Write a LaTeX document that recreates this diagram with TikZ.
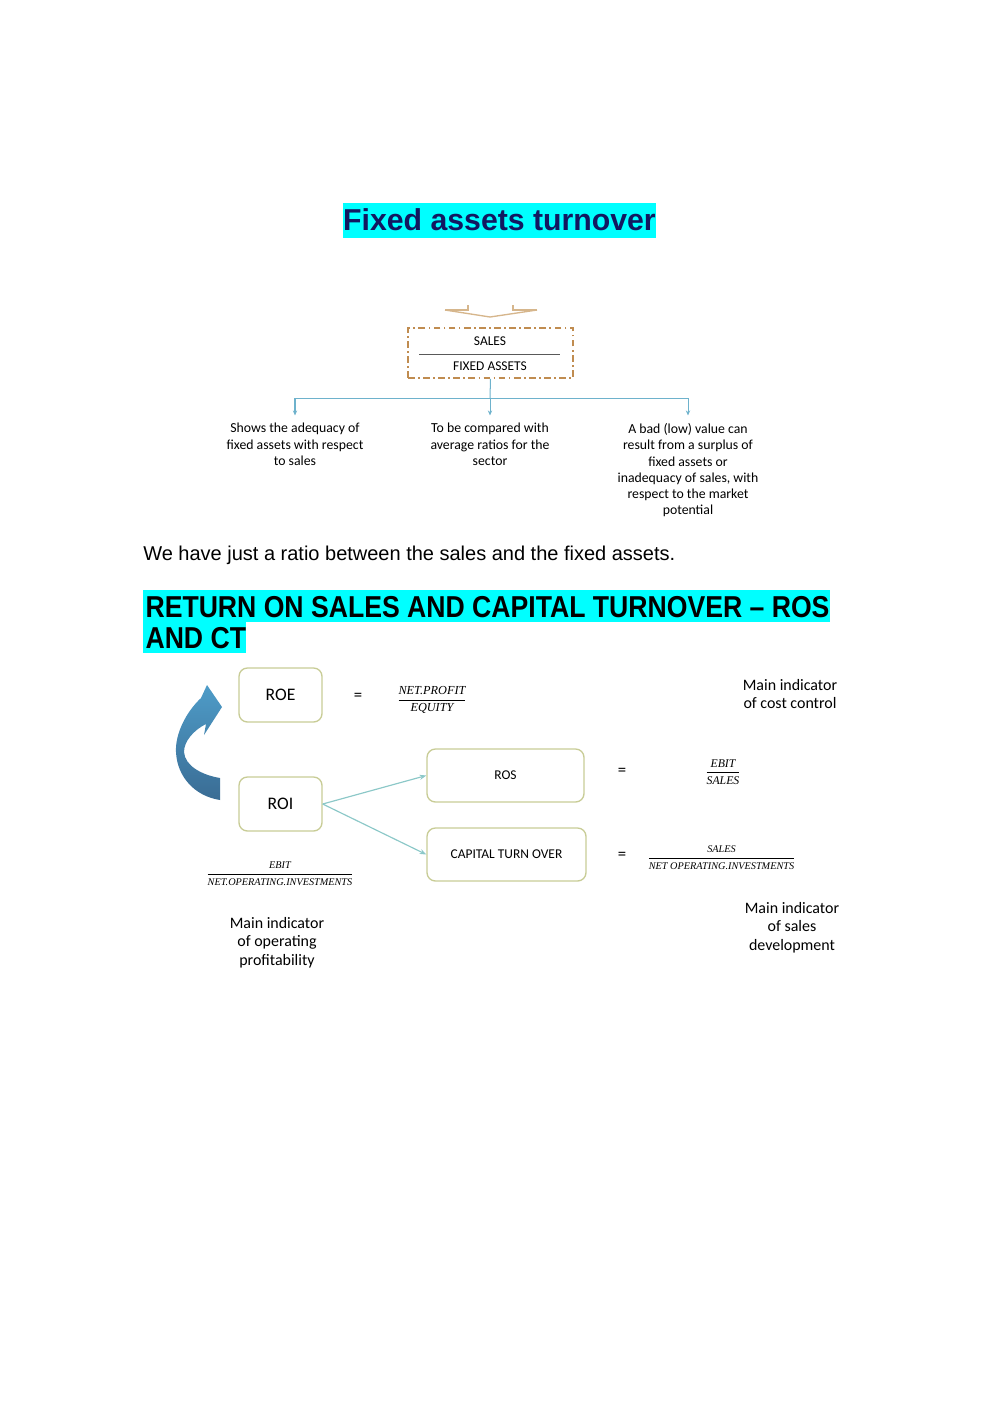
\documentclass[tikz,border=0pt]{standalone}
\usepackage{fontspec}
\setmainfont{Liberation Sans}
\newfontfamily\calf{Carlito}
\newfontfamily\tmsf{Liberation Serif}
\usetikzlibrary{arrows.meta}
\definecolor{hl}{RGB}{0,255,255}
\definecolor{navy}{RGB}{18,24,96}
\definecolor{olivebd}{RGB}{200,204,150}
\definecolor{dashbrown}{RGB}{192,140,80}
\definecolor{chevcol}{RGB}{214,182,140}
\definecolor{conn}{RGB}{110,178,204}
\definecolor{tealarr}{RGB}{140,200,200}
\definecolor{arrtop}{RGB}{78,156,200}
\definecolor{arrbot}{RGB}{58,108,148}
\def\pu{0.5953pt}
\newcommand{\myfrac}[2]{$\displaystyle\frac{\mbox{#1}}{\mbox{#2}}$}
\begin{document}
\begin{tikzpicture}[x=0.5953pt,y=-0.5953pt,
  titleA/.style={fill=hl,text=navy,font=\fontsize{18}{20}\selectfont\bfseries,inner xsep=0.3pt,inner ysep=0pt,text height=16pt,text depth=4.8pt,anchor=base},
  titleB/.style={fill=hl,text=black,font=\fontsize{18}{20}\selectfont\bfseries,inner xsep=0pt,inner ysep=0pt,text height=16pt,text depth=3pt,anchor=base west},
  bodytext/.style={font=\fontsize{11.9}{14}\selectfont,inner sep=0pt,anchor=base west},
  smalltext/.style={font=\calf\fontsize{8.2}{9.7}\selectfont,align=center,inner sep=0pt,anchor=north},
  indtext/.style={font=\calf\fontsize{9.5}{11}\selectfont,align=center,inner sep=0pt,anchor=north},
  dashbox/.style={draw=dashbrown,line width=1pt,dash pattern=on 4pt off 2pt on 1pt off 2pt,minimum width=165*\pu,minimum height=50*\pu,inner sep=0pt},
  boxlbl/.style={font=\calf\fontsize{8}{9}\selectfont,inner sep=0pt},
  rbox/.style={draw=olivebd,line width=0.8pt,rounded corners=5pt,inner sep=0pt},
  bigbox/.style={rbox,minimum width=83*\pu,minimum height=54*\pu,font=\calf\fontsize{10.5}{12}\selectfont},
  widebox/.style={rbox,minimum height=53*\pu,font=\calf\fontsize{8}{9}\selectfont},
  eqsign/.style={font=\calf\fontsize{10}{11}\selectfont,inner sep=0pt},
  frc/.style={inner sep=0pt,font=\tmsf\itshape\fontsize{#1}{#1}\selectfont},
  conarr/.style={draw=conn,line width=0.6pt,-{Stealth[length=3pt,width=2.6pt]}},
  conline/.style={draw=conn,line width=0.6pt},
  tarr/.style={draw=tealarr,line width=0.7pt,-{Stealth[length=4pt,width=3pt]}}
]
\useasboundingbox (0,0) rectangle (1000,1414);

% Title 1
\node[titleA] (title1) at (499.5,230) {Fixed assets turnover};

% Chevron (bottom of a cropped arrow)
\draw[chevcol,line width=0.8pt] (445,310) -- (468,310) -- (468,305);
\draw[chevcol,line width=0.8pt] (513,305) -- (513,310) -- (537,310);
\draw[chevcol,line width=0.8pt] (445,310) -- (490,317) -- (537,310);

% Dashed box
\node[dashbox] (fa) at (490.5,353) {};
\node[boxlbl] (salesl) at (490,341) {SALES};
\node[boxlbl] (fixl) at (490,366) {FIXED ASSETS};
\draw[gray!70!black,line width=0.5pt] (419,354) -- (560,354);

% Connectors
\coordinate (j) at (490,398);
\node[smalltext] (d1) at (295,423) {Shows the adequacy of\\fixed assets with respect\\to sales};
\node[smalltext] (d2) at (490,423) {To be compared with\\average ratios for the\\sector};
\node[smalltext] (d3) at (688,423) {A bad (low) value can\\result from a surplus of\\fixed assets or\\inadequacy of sales, with\\respect to the market\\potential};
\draw[conline] (fa.south) -- (j);
\draw[conarr,shorten >=4.5pt] (j) -| (d1.north);
\draw[conarr,shorten >=4.5pt] (j) -- (d2.north);
\draw[conarr,shorten >=4.5pt] (j) -| (d3.north);

% Body text
\node[bodytext] (body) at (143,560) {We have just a ratio between the sales and the fixed assets.};

% Title 2
\node[titleB] (title2a) at (143,617) {\scalebox{0.88}[1]{\hspace{1.5pt}RETURN ON SALES AND CAPITAL TURNOVER – ROS}};
\node[titleB] (title2b) at (143,648) {\scalebox{0.88}[1]{\hspace{1.5pt}AND CT}};

% Diagram 2
\node[bigbox] (roe) at (280.5,695) {\raisebox{-1pt}{ROE}};
\node[bigbox] (roi) at (280.5,804) {ROI};
\node[widebox,minimum width=157*\pu] (ros) at (505.5,775.5) {ROS};
\node[widebox,minimum width=159*\pu] (cto) at (506.5,854.5) {CAPITAL TURN OVER};

\node[eqsign] (eq1) at (358,697) {=};
\node[eqsign] (eq2) at (622,772) {=};
\node[eqsign] (eq3) at (622,856) {=};

\node[frc=7.3] (f1) at (432,700) {\myfrac{NET.PROFIT}{EQUITY}};
\node[frc=7] (f2) at (723,772) {\myfrac{EBIT}{SALES}};
\node[frc=6.1] (f3) at (721.5,858) {\myfrac{SALES}{NET OPERATING.INVESTMENTS}};
\node[frc=6.1] (f4) at (280,874) {\myfrac{EBIT}{NET.OPERATING.INVESTMENTS}};

\draw[tarr] (roi.east) -- (ros.west);
\draw[tarr] (roi.east) -- (cto.west);

% Curved blue arrow
\shade[top color=arrtop,bottom color=arrbot]
  (201,698) .. controls (186,712) and (175,734) .. (176,752)
  .. controls (177,776) and (194,796) .. (220,800)
  -- (220,778)
  .. controls (202,775) and (185,766) .. (184,752)
  .. controls (184,741) and (194,730) .. (206,724)
  -- (204,735) -- (222,707) -- (207,685) -- cycle;

\node[indtext] (i1) at (277,917) {Main indicator\\of operating\\profitability};
\node[indtext] (i2) at (790,679) {Main indicator\\of cost control};
\node[indtext] (i3) at (792,902) {Main indicator\\of sales\\development};
\end{tikzpicture}
\end{document}
